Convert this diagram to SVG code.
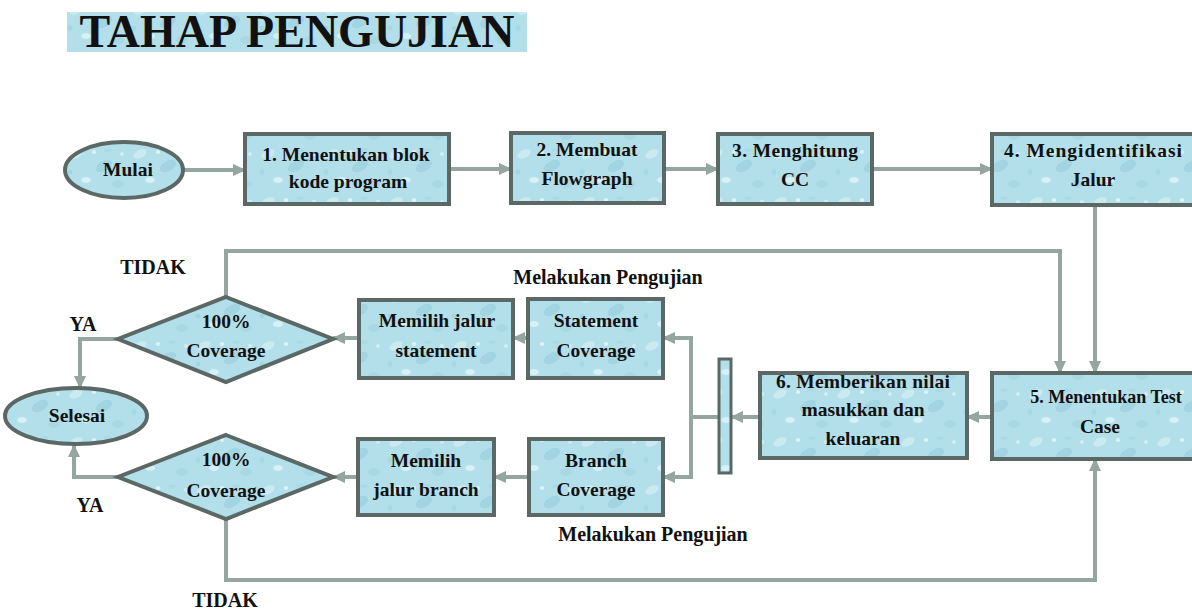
<svg xmlns="http://www.w3.org/2000/svg" width="1192" height="610" viewBox="0 0 1192 610">
<style>
.nd{fill:url(#water);stroke:#5b6865;stroke-width:4}
.t{font-family:'Liberation Serif','DejaVu Serif',serif;font-weight:700;font-size:19.5px;fill:#111;text-anchor:middle}
.lb{font-family:'Liberation Serif','DejaVu Serif',serif;font-weight:700;font-size:20px;fill:#111;text-anchor:middle}
.ttl{font-family:'Liberation Serif','DejaVu Serif',serif;font-weight:700;font-size:46px;fill:#111;text-anchor:middle}
.c{fill:none;stroke:#95a5a0;stroke-width:4}
.ca{fill:none;stroke:#95a5a0;stroke-width:4;marker-end:url(#ah)}
</style>
<defs>
<pattern id="water" patternUnits="userSpaceOnUse" width="64" height="48">
<rect width="64" height="48" fill="#b2dfe9"/>
<ellipse cx="12" cy="10" rx="7" ry="4" fill="#d4f0f6" opacity="0.7" transform="rotate(-25 12 10)"/>
<ellipse cx="40" cy="22" rx="9" ry="5" fill="#8fc9d8" opacity="0.45" transform="rotate(-30 40 22)"/>
<ellipse cx="22" cy="36" rx="5" ry="3" fill="#dff5f9" opacity="0.8"/>
<ellipse cx="54" cy="40" rx="6" ry="4" fill="#9fd2df" opacity="0.5"/>
<circle cx="30" cy="8" r="2" fill="#e8f8fb" opacity="0.8"/>
<circle cx="6" cy="28" r="2.5" fill="#96cddb" opacity="0.5"/>
<circle cx="58" cy="10" r="2" fill="#e0f5f9" opacity="0.7"/>
<ellipse cx="44" cy="6" rx="4" ry="2" fill="#a3d5e1" opacity="0.5"/>
</pattern>
<marker id="ah" markerUnits="userSpaceOnUse" markerWidth="14" markerHeight="12" refX="12" refY="6" orient="auto">
<path d="M0,0 L13,6 L0,12 Z" fill="#95a5a0"/>
</marker>
</defs>
<rect width="1192" height="610" fill="#ffffff"/>

<g id="title">
<rect x="67" y="12" width="460" height="40" fill="url(#water)"/>
<text class="ttl" x="297" y="47">TAHAP PENGUJIAN</text>
</g>

<g id="connectors">
<path class="ca" d="M184,170 H245"/>
<path class="ca" d="M449,169 H511"/>
<path class="ca" d="M664,169 H718"/>
<path class="ca" d="M872,169 H992"/>
<path class="ca" d="M1095,205 V373"/>
<path class="ca" d="M226,297 V251 H1060 V373"/>
<path class="ca" d="M992,417 H967"/>
<path class="ca" d="M760,417 H731"/>
<path class="c" d="M719,417 H691"/>
<path class="ca" d="M691,417 V338 H663"/>
<path class="ca" d="M691,417 V477 H663"/>
<path class="ca" d="M528,338 H513"/>
<path class="ca" d="M359,338 H333"/>
<path class="ca" d="M529,477 H494"/>
<path class="ca" d="M358,477 H333"/>
<path class="ca" d="M118,339 H80 V388"/>
<path class="ca" d="M118,477 H74 V445"/>
<path class="ca" d="M226,519 V580 H1095 V459"/>
</g>

<g id="mulai">
<ellipse class="nd" cx="124" cy="170" rx="59" ry="28"/>
<text class="t" x="128" y="176">Mulai</text>
</g>

<g id="step1">
<rect class="nd" x="245" y="134" width="204" height="70"/>
<text class="t" x="346" y="161">1. Menentukan blok</text>
<text class="t" x="348" y="188">kode program</text>
</g>

<g id="step2">
<rect class="nd" x="511" y="133" width="153" height="70"/>
<text class="t" x="587" y="156" textLength="101">2. Membuat</text>
<text class="t" x="587" y="185">Flowgraph</text>
</g>

<g id="step3">
<rect class="nd" x="718" y="134" width="154" height="70"/>
<text class="t" x="795" y="157" textLength="126">3. Menghitung</text>
<text class="t" x="795" y="186">CC</text>
</g>

<g id="step4">
<rect class="nd" x="992" y="134" width="215" height="71"/>
<text class="t" x="1093" y="157" textLength="178">4. Mengidentifikasi</text>
<text class="t" x="1093" y="186">Jalur</text>
</g>

<g id="step5">
<rect class="nd" x="992" y="373" width="215" height="86"/>
<text class="t" x="1106" y="403" style="font-size:18px">5. Menentukan Test</text>
<text class="t" x="1100" y="433">Case</text>
</g>

<g id="step6">
<rect class="nd" x="760" y="373" width="207" height="85"/>
<text class="t" x="863" y="388" textLength="174">6. Memberikan nilai</text>
<text class="t" x="863" y="416">masukkan dan</text>
<text class="t" x="863" y="445">keluaran</text>
</g>

<g id="bar">
<rect class="nd" x="719" y="359" width="12" height="114" style="stroke-width:3"/>
</g>

<g id="statement-coverage">
<rect class="nd" x="528" y="299" width="135" height="79"/>
<text class="t" x="596" y="327">Statement</text>
<text class="t" x="596" y="357">Coverage</text>
</g>

<g id="memilih-statement">
<rect class="nd" x="359" y="300" width="154" height="78"/>
<text class="t" x="437" y="327">Memilih jalur</text>
<text class="t" x="436" y="357">statement</text>
</g>

<g id="branch-coverage">
<rect class="nd" x="529" y="439" width="134" height="76"/>
<text class="t" x="596" y="467">Branch</text>
<text class="t" x="596" y="496">Coverage</text>
</g>

<g id="memilih-branch">
<rect class="nd" x="358" y="439" width="136" height="76"/>
<text class="t" x="426" y="467">Memilih</text>
<text class="t" x="426" y="496">jalur branch</text>
</g>

<g id="decision1">
<polygon class="nd" points="226,297 333,339 226,382 118,339"/>
<text class="t" x="226" y="328">100%</text>
<text class="t" x="226" y="357">Coverage</text>
</g>

<g id="decision2">
<polygon class="nd" points="226,435 333,477 226,519 118,477"/>
<text class="t" x="226" y="466">100%</text>
<text class="t" x="226" y="497">Coverage</text>
</g>

<g id="selesai">
<ellipse class="nd" cx="76" cy="416" rx="71" ry="28"/>
<text class="t" x="77" y="422">Selesai</text>
</g>

<g id="labels">
<text class="lb" x="153" y="274">TIDAK</text>
<text class="lb" x="83" y="331">YA</text>
<text class="lb" x="90" y="512">YA</text>
<text class="lb" x="225" y="607">TIDAK</text>
<text class="lb" x="608" y="284">Melakukan Pengujian</text>
<text class="lb" x="653" y="541">Melakukan Pengujian</text>
</g>
</svg>
